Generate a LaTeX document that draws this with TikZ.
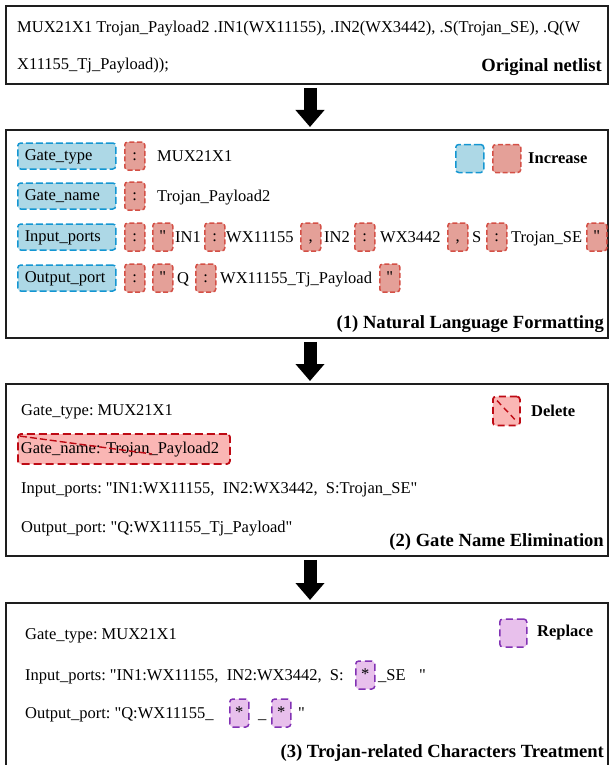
\documentclass[tikz,border=0pt]{standalone}
\usepackage{fontspec}
\setmainfont{Liberation Serif}[Ligatures=TeXOff]
\usetikzlibrary{arrows.meta}

\definecolor{tagblue}{RGB}{173,216,230}
\definecolor{tagblueline}{RGB}{20,150,210}
\definecolor{tagred}{RGB}{228,160,152}
\definecolor{tagredline}{RGB}{212,80,70}
\definecolor{delfill}{RGB}{250,182,180}
\definecolor{delline}{RGB}{190,10,20}
\definecolor{repfill}{RGB}{232,192,236}
\definecolor{repline}{RGB}{130,50,180}
\definecolor{framecol}{RGB}{30,30,30}

\begin{document}
\frenchspacing
\begin{tikzpicture}[x=1pt,y=-1pt,
  font=\fontsize{16.5}{19}\selectfont,
  frame/.style={draw=framecol, line width=1.8pt, anchor=north west, inner sep=0pt},
  txt/.style={anchor=base west, inner sep=0pt},
  title/.style={anchor=base east, inner sep=0pt, font=\fontsize{18.6}{21}\selectfont\bfseries},
  legend/.style={anchor=west, inner sep=0pt, font=\fontsize{16.5}{19}\selectfont\bfseries},
  tagbase/.style={rounded corners=3pt, dash pattern=on 5pt off 2.5pt, line width=1.5pt,
    inner sep=0pt, anchor=west, text height=12pt, text depth=3pt},
  keytag/.style={tagbase, fill=tagblue, draw=tagblueline, minimum height=26pt,
    dash pattern=on 7pt off 3pt, text width=84pt, inner xsep=7pt, align=left},
  symtag/.style={tagbase, fill=tagred, draw=tagredline, minimum width=20pt, minimum height=28pt},
  startag/.style={tagbase, fill=repfill, draw=repline, minimum width=19pt, minimum height=28pt,
    dash pattern=on 7pt off 4pt},
  bigarrow/.style={line width=13pt, -{Triangle[width=28pt,length=17pt]},
    shorten <=3pt, shorten >=2pt}
]
\useasboundingbox (0,0) rectangle (609,765);

% ---------- frames ----------
\node[frame, minimum width=602pt, minimum height=78pt] (net) at (5,5) {};
\node[frame, minimum width=602pt, minimum height=208pt] (fmt) at (5,129) {};
\node[frame, minimum width=602pt, minimum height=172pt] (elim) at (5,383) {};
\node[frame, minimum width=602pt, minimum height=180pt] (treat) at (5,602) {};

% ---------- arrows between stages ----------
\coordinate (ax) at (310,0);
\draw[bigarrow] (net.south -| ax) -- (fmt.north -| ax);
\draw[bigarrow] (fmt.south -| ax) -- (elim.north -| ax);
\draw[bigarrow] (elim.south -| ax) -- (treat.north -| ax);

% ---------- original netlist ----------
\node[txt] (n1) at (17,33) {MUX21X1 Trojan\_Payload2 .IN1(WX11155), .IN2(WX3442), .S(Trojan\_SE), .Q(W};
\node[txt] (n2) at (17,70) {X11155\_Tj\_Payload));};
\node[title] (t0) at (602,72) {Original netlist};

% ---------- (1) natural language formatting ----------
\node[keytag] (k1) at (17,156) {Gate\_type};
\node[symtag] (k1c) at (124,156) {:};
\node[txt] (k1v) at (157,161.5) {MUX21X1};

\node[keytag] (k2) at (17,196) {Gate\_name};
\node[symtag] (k2c) at (124,196) {:};
\node[txt] (k2v) at (157,201.5) {Trojan\_Payload2};

\node[keytag] (k3) at (17,237) {Input\_ports};
\node[symtag] (k3c) at (124,237) {:};
\node[symtag] (k3q) at (152,237) {"};
\node[txt] (k3a) at (175,242.5) {IN1};
\node[symtag] (k3b) at (204,237) {:};
\node[txt] (k3d) at (226,242.5) {WX11155};
\node[symtag] (k3e) at (300,237) {,};
\node[txt] (k3f) at (324,242.5) {IN2};
\node[symtag] (k3g) at (354,237) {:};
\node[txt] (k3h) at (380,242.5) {WX3442};
\node[symtag] (k3i) at (447,237) {,};
\node[txt] (k3j) at (472,242.5) {S};
\node[symtag] (k3k) at (486,237) {:};
\node[txt] (k3l) at (511,242.5) {Trojan\_SE};
\node[symtag] (k3m) at (586,237) {"};

\node[keytag] (k4) at (17,278) {Output\_port};
\node[symtag] (k4c) at (124,278) {:};
\node[symtag] (k4q) at (152,278) {"};
\node[txt] (k4a) at (177,283.5) {Q};
\node[symtag] (k4b) at (195,278) {:};
\node[txt] (k4d) at (220,283.5) {WX11155\_Tj\_Payload};
\node[symtag] (k4e) at (379,278) {"};

\node[tagbase, fill=tagblue, draw=tagblueline, dash pattern=on 7pt off 3pt,
  minimum width=28pt, minimum height=28pt] (lg1) at (455,158.5) {};
\node[symtag, minimum width=28pt] (lg2) at (492,158.5) {};
\node[legend] (lg3) at (528,158.5) {Increase};
\node[title] (t1) at (604,328) {(1) Natural Language Formatting};

% ---------- (2) gate name elimination ----------
\node[txt] (e1) at (21,415) {Gate\_type: MUX21X1};
\node[tagbase, fill=delfill, draw=delline, minimum width=212pt, minimum height=30pt,
  text width=206pt, inner xsep=3pt, align=left, line width=1.8pt,
  dash pattern=on 8pt off 4pt] (e2) at (17,449) {Gate\_name: Trojan\_Payload2};
\draw[delline, line width=1.4pt, dash pattern=on 7pt off 3pt]
  ([shift={(3pt,-3pt)}]e2.north west) -- ([shift={(135pt,-5pt)}]e2.west);
\node[txt] (e3) at (21,493) {Input\_ports: "IN1:WX11155,\ \ IN2:WX3442,\ \ S:Trojan\_SE"};
\node[txt] (e4) at (21,532) {Output\_port: "Q:WX11155\_Tj\_Payload"};

\node[tagbase, fill=delfill, draw=delline, minimum width=27pt, minimum height=29pt,
  line width=1.8pt, dash pattern=on 7pt off 4pt] (dl) at (492,411) {};
\draw[delline, line width=1.4pt, dash pattern=on 6pt off 4pt]
  ([shift={(5pt,-5pt)}]dl.north west) -- ([shift={(-6pt,7pt)}]dl.south east);
\node[legend] (dlt) at (531,411) {Delete};
\node[title] (t2) at (604,546) {(2) Gate Name Elimination};

% ---------- (3) trojan-related characters treatment ----------
\node[txt] (r1) at (25,639) {Gate\_type: MUX21X1};
\node[txt] (r2) at (25,680.5) {Input\_ports: "IN1:WX11155,\ \ IN2:WX3442,\ \ S:};
\node[startag] (r2s) at (355,675) {*};
\node[txt] (r2t) at (378,680.5) {\_SE};
\node[txt] (r2q) at (419,680.5) {"};
\node[txt] (r3) at (25,718.5) {Output\_port: "Q:WX11155\_};
\node[startag] (r3s) at (229,713) {*};
\node[txt] (r3u) at (258,718.5) {\_};
\node[startag] (r3t) at (271,713) {*};
\node[txt] (r3q) at (298,718.5) {"};

\node[startag, minimum width=27pt, minimum height=28pt] (rp) at (499,633) {};
\node[legend] (rpt) at (537,633) {Replace};
\node[title] (t3) at (604,757) {(3) Trojan-related Characters Treatment};
\end{tikzpicture}
\end{document}
